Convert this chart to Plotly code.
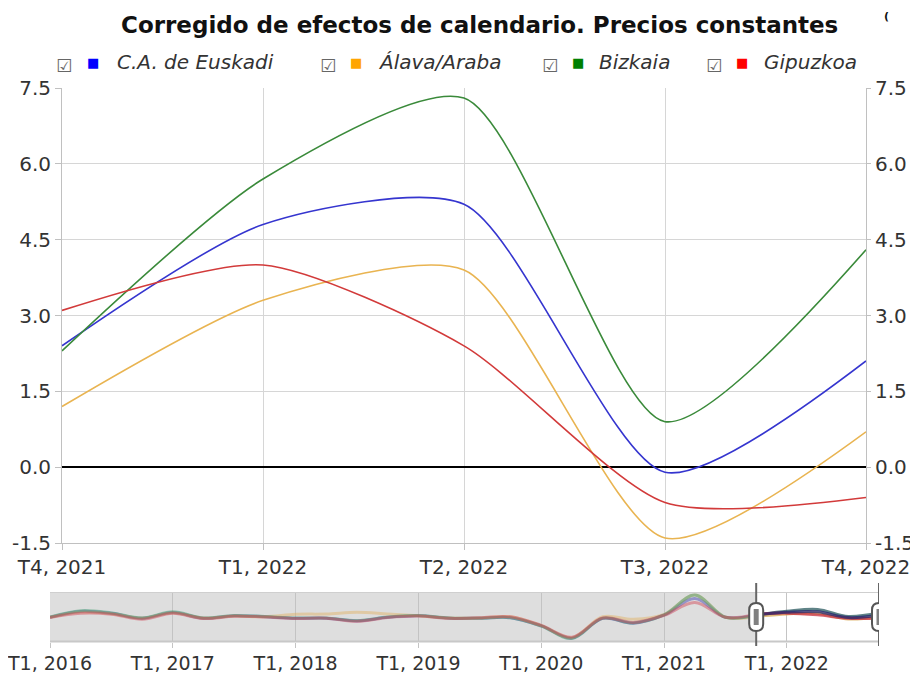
import plotly.graph_objects as go

# ---------------- data ----------------
periods = [
    "T1, 2016", "T2, 2016", "T3, 2016", "T4, 2016",
    "T1, 2017", "T2, 2017", "T3, 2017", "T4, 2017",
    "T1, 2018", "T2, 2018", "T3, 2018", "T4, 2018",
    "T1, 2019", "T2, 2019", "T3, 2019", "T4, 2019",
    "T1, 2020", "T2, 2020", "T3, 2020", "T4, 2020",
    "T1, 2021", "T2, 2021", "T3, 2021", "T4, 2021",
    "T1, 2022", "T2, 2022", "T3, 2022", "T4, 2022",
]
main_ticks = ["T4, 2021", "T1, 2022", "T2, 2022", "T3, 2022", "T4, 2022"]
nav_ticks = ["T1, 2016", "T1, 2017", "T1, 2018", "T1, 2019", "T1, 2020", "T1, 2021", "T1, 2022"]
y_tickvals = [-1.5, 0.0, 1.5, 3.0, 4.5, 6.0, 7.5]
y_ticktext = ["-1.5", "0.0", "1.5", "3.0", "4.5", "6.0", "7.5"]

euskadi = [0.2, 5.5, 3.8, -0.7, 4.5, -0.7, 1.6, 0.7, -0.7, -0.7, -3.2, 0.2,
           1.6, -0.7, -0.7, -0.2, -7.7, -18.9, -0.7, -5.3, 2.3, 17.5, 0.2,
           2.4, 4.8, 5.2, -0.1, 2.1]
alava = [0.2, 5.0, 3.5, -0.5, 4.3, -0.5, 1.3, 0.7, 2.9, 3.2, 4.7, 3.2,
         1.6, -0.5, -0.5, 0.7, -7.5, -18.5, 0.7, -1.6, 2.8, 20.5, 0.2,
         1.2, 3.3, 3.9, -1.4, 0.7]
bizkaia = [0.4, 6.2, 4.2, -0.5, 5.2, -0.4, 1.9, 0.9, -0.5, -0.5, -2.8, 0.4,
           1.8, -0.5, -0.6, -0.2, -7.8, -19.3, -0.8, -5.0, 2.3, 20.5, 0.2,
           2.3, 5.7, 7.3, 0.9, 4.3]
gipuzkoa = [0.0, 3.8, 3.0, -1.6, 3.8, -1.0, 1.2, 0.5, -0.9, -0.6, -3.5, 0.0,
            1.4, -0.8, -0.3, 0.7, -7.2, -18.0, -0.5, -4.5, 2.0, 13.8, 0.2,
            3.1, 4.0, 2.4, -0.7, -0.6]

series_names = ["C.A. de Euskadi", "Álava/Araba", "Bizkaia", "Gipuzkoa"]
series_values = [euskadi, alava, bizkaia, gipuzkoa]
line_colors = ["#3535cf", "#e9b451", "#3a8a3a", "#d23a3a"]
legend_colors = ["#0000ff", "#ffa500", "#008000", "#ff0000"]
nav_colors = ["#3a3ab0", "#e0b060", "#3a9a6a", "#d04050"]
nav_sel_colors = ["#24246e", "#d8a850", "#2a5a60", "#c83040"]

title_text = "Corregido de efectos de calendario. Precios constantes"

# ---------------- layout geometry (page pixels; page body has an 8px margin) ----------------
OFF = 8
W, H = 918 - OFF, 677 - OFF
def px(v):
    return (v - OFF) / W
def py(v):
    return 1 - (v - OFF) / H

sel_start = periods.index(main_ticks[0])

fig = go.Figure()

# main traces (last one on the mirrored right axis, same range)
for i, (name, vals, col) in enumerate(zip(series_names, series_values, line_colors)):
    fig.add_trace(go.Scatter(
        x=periods[sel_start:], y=vals[sel_start:], mode="lines", name=name,
        line=dict(color=col, width=1.6, shape="spline", smoothing=0.7),
        xaxis="x", yaxis="y3" if i == 3 else "y", hoverinfo="skip",
        showlegend=False,
    ))

# navigator traces: unselected part (faded) and selected part (stronger)
for vals, col in zip(series_values, nav_colors):
    fig.add_trace(go.Scatter(
        x=periods[:sel_start + 1], y=vals[:sel_start + 1], mode="lines",
        line=dict(color=col, width=3, shape="spline", smoothing=1.0),
        opacity=0.45, xaxis="x2", yaxis="y2", hoverinfo="skip", showlegend=False,
    ))
for idx in [2, 1, 3, 0]:
    fig.add_trace(go.Scatter(
        x=periods[sel_start:], y=series_values[idx][sel_start:], mode="lines",
        line=dict(color=nav_sel_colors[idx], width=3, shape="spline", smoothing=1.0),
        opacity=0.75, xaxis="x2", yaxis="y2", hoverinfo="skip", showlegend=False,
    ))

tick_font = dict(family="DejaVu Sans", size=20, color="#333333")
grid_col = "#d6d6d6"
axis_col = "#c0c0c0"

main_y_dom = [py(543), py(88)]
nav_y_dom = [py(641.5), py(592.5)]

shapes = []
# navigator grey (unselected) area
shapes.append(dict(type="rect", xref="x2", yref="y2 domain", x0=periods[0], x1=periods[sel_start],
                   y0=0, y1=1, fillcolor="#dedede", line=dict(width=0), layer="below"))
# navigator box outline
shapes.append(dict(type="line", xref="x2 domain", yref="y2 domain", x0=0, x1=1, y0=1, y1=1,
                   line=dict(color="#cfcfcf", width=1)))
shapes.append(dict(type="line", xref="x2 domain", yref="y2 domain", x0=0, x1=1, y0=0, y1=0,
                   line=dict(color="#c8c8c8", width=2)))
# handles
handle_y = py(617)
for hx in [periods[sel_start], periods[-1]]:
    shapes.append(dict(type="line", xref="x2", yref="paper", x0=hx, x1=hx,
                       y0=py(646), y1=py(583), line=dict(color="#666666", width=2)))
    shapes.append(dict(type="path", xref="x2", yref="paper", xsizemode="pixel", ysizemode="pixel",
                       xanchor=hx, yanchor=handle_y,
                       path="M -7 -7 L -7 7 Q -7 14 0 14 Q 7 14 7 7 L 7 -7 Q 7 -14 0 -14 Q -7 -14 -7 -7 Z",
                       fillcolor="#ffffff", line=dict(color="#555555", width=2)))
    shapes.append(dict(type="rect", xref="x2", yref="paper", xsizemode="pixel", ysizemode="pixel",
                       xanchor=hx, yanchor=handle_y, x0=-2.5, x1=2.5, y0=-8, y1=8,
                       fillcolor="#808080", line=dict(width=0)))

annotations = []
annotations.append(dict(text="<b>" + title_text + "</b>", x=px(479), y=py(25), xref="paper", yref="paper",
                        showarrow=False, xanchor="center", yanchor="middle",
                        font=dict(family="DejaVu Sans", size=23, color="#111111")))
annotations.append(dict(text="<b>(</b>", x=px(886), y=1, xref="paper", yref="paper",
                        showarrow=False, xanchor="center", yanchor="top",
                        font=dict(family="DejaVu Sans", size=11, color="#111111")))

legend_pos = [(64, 93, 115), (328, 356, 376), (550, 578, 597), (714, 742, 762)]
ly = py(62)
for (cbx, sqx, tx), name, col in zip(legend_pos, series_names, legend_colors):
    annotations.append(dict(text="☑", x=px(cbx), y=py(65), xref="paper", yref="paper", showarrow=False,
                            xanchor="center", yanchor="middle",
                            font=dict(family="DejaVu Sans", size=18, color="#666666")))
    annotations.append(dict(text="■", x=px(sqx), y=ly, xref="paper", yref="paper", showarrow=False,
                            xanchor="center", yanchor="middle",
                            font=dict(family="DejaVu Sans", size=13, color=col)))
    annotations.append(dict(text="<i>" + name + "</i>", x=px(tx), y=ly, xref="paper", yref="paper",
                            showarrow=False, xanchor="left", yanchor="middle",
                            font=dict(family="DejaVu Sans", size=20, color="#333333")))

fig.update_layout(
    width=W, height=H,
    margin=dict(l=0, r=0, t=0, b=0, autoexpand=False),
    paper_bgcolor="white", plot_bgcolor="white",
    showlegend=False,
    xaxis=dict(domain=[px(62), px(866)], anchor="y", type="category",
               categoryorder="array", categoryarray=periods,
               range=[sel_start, len(periods) - 1],
               tickvals=main_ticks, ticktext=main_ticks,
               showgrid=True, gridcolor=grid_col, gridwidth=1,
               showline=True, linecolor=axis_col, linewidth=1,
               ticks="outside", ticklen=6, tickcolor=axis_col,
               tickfont=tick_font, zeroline=False, fixedrange=True, automargin=False),
    yaxis=dict(domain=main_y_dom, anchor="x", range=[-1.5, 7.5],
               tickvals=y_tickvals, ticktext=y_ticktext,
               showgrid=True, gridcolor=grid_col, gridwidth=1,
               zeroline=True, zerolinecolor="#000000", zerolinewidth=1.5,
               showline=True, linecolor=axis_col, linewidth=1,
               ticks="outside", ticklen=6, tickcolor=axis_col,
               tickfont=tick_font, fixedrange=True, automargin=False),
    yaxis3=dict(overlaying="y", side="right", anchor="x", range=[-1.5, 7.5],
                tickvals=y_tickvals, ticktext=y_ticktext,
                showgrid=False, zeroline=False,
                showline=True, linecolor=axis_col, linewidth=1,
                ticks="outside", ticklen=4, tickcolor=axis_col,
                tickfont=tick_font, fixedrange=True, automargin=False),
    xaxis2=dict(domain=[px(50), px(879)], anchor="y2", type="category",
                categoryorder="array", categoryarray=periods,
                range=[0, len(periods) - 1],
                tickvals=nav_ticks, ticktext=nav_ticks,
                showgrid=True, gridcolor="#c4c4c4", gridwidth=1,
                showline=False, ticks="outside", ticklen=5, tickcolor="#c4c4c4",
                tickfont=dict(family="DejaVu Sans", size=19, color="#333333"),
                zeroline=False, fixedrange=True, automargin=False),
    yaxis2=dict(domain=nav_y_dom, anchor="x2", range=[-22, 22.9],
                showgrid=False, zeroline=False, showticklabels=False,
                showline=False, fixedrange=True, automargin=False),
    shapes=shapes,
    annotations=annotations,
)

fig.write_html("out.html")
